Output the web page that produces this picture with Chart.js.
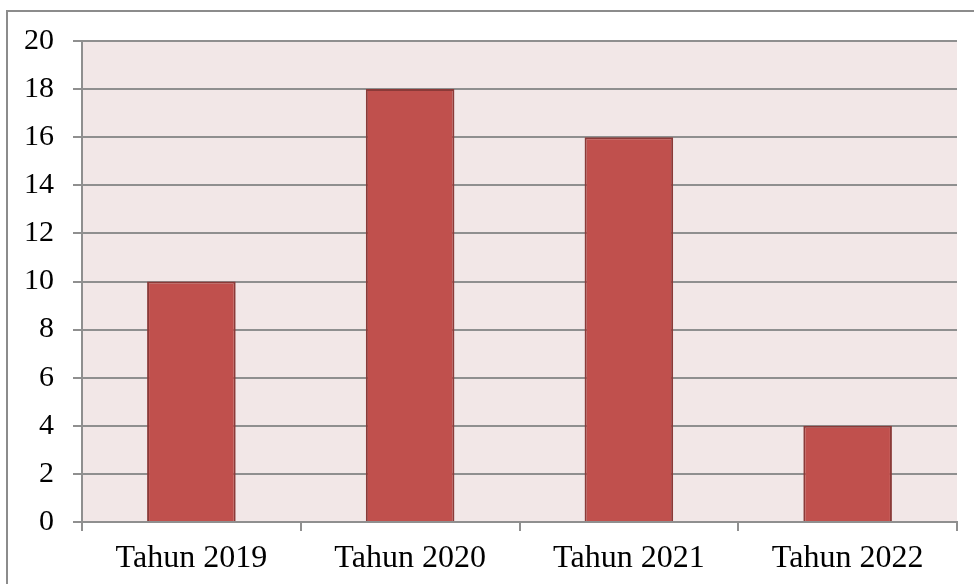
<!DOCTYPE html>
<html>
<head>
<meta charset="utf-8">
<script src="https://cdn.jsdelivr.net/npm/chart.js@4/dist/chart.umd.min.js"></script>
<style>
  html, body { margin: 0; padding: 0; background: #ffffff; }
  #wrap { width: 974px; height: 584px; }
</style>
</head>
<body>
<div id="wrap"><canvas id="c" width="974" height="584"></canvas></div>
<script>
const categories = ["Tahun 2019", "Tahun 2020", "Tahun 2021", "Tahun 2022"];
const values = [10, 18, 16, 4];
const yTicks = [0, 2, 4, 6, 8, 10, 12, 14, 16, 18, 20];

const gridColor = '#8f8f8f';
const fontFamily = '"Liberation Serif", "Times New Roman", serif';

const framePlugin = {
  id: 'frame',
  beforeDraw(chart) {
    const ctx = chart.ctx;
    const a = chart.chartArea;
    ctx.save();
    ctx.fillStyle = '#ffffff';
    ctx.fillRect(0, 0, chart.width, chart.height);
    ctx.fillStyle = '#F2E7E7';
    ctx.fillRect(a.left, a.top, a.right - a.left, a.bottom - a.top);
    ctx.strokeStyle = '#8c8c8c';
    ctx.lineWidth = 2;
    ctx.strokeRect(7, 11, chart.width + 20, chart.height + 20);
    ctx.restore();
  }
};

new Chart(document.getElementById('c'), {
  type: 'bar',
  data: {
    labels: categories,
    datasets: [{
      data: values,
      backgroundColor: '#C0504D',
      borderColor: '#8B3A38',
      borderWidth: 2,
      categoryPercentage: 1.0,
      barPercentage: 0.405
    }]
  },
  options: {
    responsive: false,
    animation: false,
    devicePixelRatio: 1,
    layout: { padding: { left: 0, top: 41, right: 17, bottom: 0 } },
    plugins: { legend: { display: false }, tooltip: { enabled: false } },
    scales: {
      x: {
        grid: { offset: true, drawOnChartArea: false, drawTicks: true, tickLength: 9, color: gridColor, lineWidth: 2 },
        border: { display: true, color: gridColor, width: 2 },
        ticks: { color: '#000000', font: { family: fontFamily, size: 32 }, padding: 8, maxRotation: 0 },
        afterFit(scale) { scale.height = 62; }
      },
      y: {
        min: 0,
        max: 20,
        afterBuildTicks(scale) { scale.ticks = yTicks.map(v => ({ value: v })); },
        grid: { drawOnChartArea: true, drawTicks: true, tickLength: 9, color: gridColor, lineWidth: 2 },
        border: { display: true, color: gridColor, width: 2 },
        ticks: { color: '#000000', font: { family: fontFamily, size: 30 }, padding: 19 },
        afterFit(scale) { scale.width = 82; }
      }
    }
  },
  plugins: [framePlugin]
});
</script>
</body>
</html>
